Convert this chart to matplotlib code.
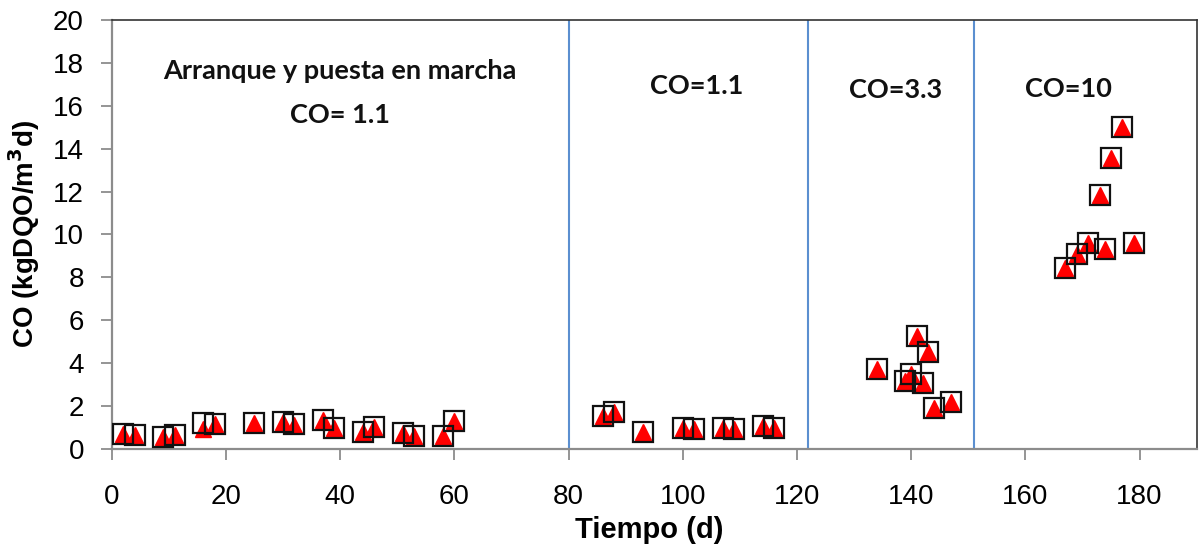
import matplotlib.pyplot as plt

# dias de operacion y carga organica (kgDQO/m3 d)
dias = [2, 4, 9, 11, 16, 18, 25, 30, 32, 37, 39, 44, 46, 51, 53, 58, 60,
        86, 88, 93, 100, 102, 107, 109, 114, 116,
        134, 139, 140, 141, 142, 143, 144, 147,
        167, 169, 171, 173, 174, 175, 177, 179]
co_medida = [0.71, 0.65, 0.55, 0.64, 1.23, 1.15, 1.23, 1.26, 1.15, 1.35, 0.96, 0.81, 1.01, 0.76, 0.59, 0.59, 1.32,
             1.52, 1.74, 0.81, 0.96, 0.93, 0.96, 0.93, 1.07, 0.96,
             3.73, 3.18, 3.48, 5.28, 3.08, 4.54, 1.93, 2.19,
             8.42, 9.09, 9.60, 11.83, 9.34, 13.55, 15.01, 9.60]
co_aplicada = [0.71, 0.65, 0.55, 0.64, 0.95, 1.15, 1.23, 1.26, 1.10, 1.35, 0.96, 0.81, 1.01, 0.76, 0.59, 0.59, 1.32,
               1.52, 1.74, 0.81, 0.96, 0.93, 0.96, 0.93, 1.07, 0.96,
               3.73, 3.18, 3.48, 5.28, 3.08, 4.54, 1.93, 2.19,
               8.42, 9.09, 9.60, 11.83, 9.34, 13.55, 15.01, 9.60]

cambios = [80, 122, 151]
etapas = ["Arranque y puesta en marcha", "CO= 1.1", "CO=1.1", "CO=3.3", "CO=10"]
etapa_x = [40, 40, 102.5, 137.3, 167.6]
etapa_y = [17.6, 15.55, 16.9, 16.75, 16.8]

fig = plt.figure(figsize=(11.99, 5.52), dpi=100)
ax = fig.add_axes([0.0932, 0.1866, 0.9048, 0.7772])

for x in cambios:
    ax.axvline(x, color="#5b8fd0", lw=1.5, zorder=1)

ax.plot(dias, co_aplicada, linestyle="none", marker="^", ms=11, color="#ff0000",
        mec="#ff0000", zorder=3)
ax.plot(dias, co_medida, linestyle="none", marker="s", ms=14, mfc="none",
        mec="#111111", mew=1.6, zorder=4)

for t, x, y in zip(etapas, etapa_x, etapa_y):
    ax.text(x, y, t, ha="center", va="center", fontsize=19.5, fontweight="bold",
            family="Lato", color="#111111")

ax.set_xlim(0, 190)
ax.set_ylim(0, 20)
ax.set_xticks(range(0, 181, 20))
ax.set_yticks(range(0, 21, 2))
ax.tick_params(axis="both", direction="out", length=8, width=1.3, color="#8c8c8c",
               labelsize=20)
ax.tick_params(axis="x", pad=17)
ax.tick_params(axis="y", pad=12)
for lab in ax.get_xticklabels() + ax.get_yticklabels():
    lab.set_family("Liberation Sans")

for s in ["left", "bottom"]:
    ax.spines[s].set_color("#8c8c8c")
    ax.spines[s].set_linewidth(1.6)
for s in ["top", "right"]:
    ax.spines[s].set_color("#333333")
    ax.spines[s].set_linewidth(1.2)

ax.set_xlabel("Tiempo (d)", fontsize=21, fontweight="bold", family="Liberation Sans",
              va="center")
ax.xaxis.set_label_coords(0.495, -0.189)
ax.set_ylabel("CO (kgDQO/m$^{\\mathbf{3}}$d)", fontsize=20, fontweight="bold",
              family="Liberation Sans", va="center")
ax.yaxis.set_label_coords(-0.081, 0.5)

fig.savefig("out.png", dpi=100)
